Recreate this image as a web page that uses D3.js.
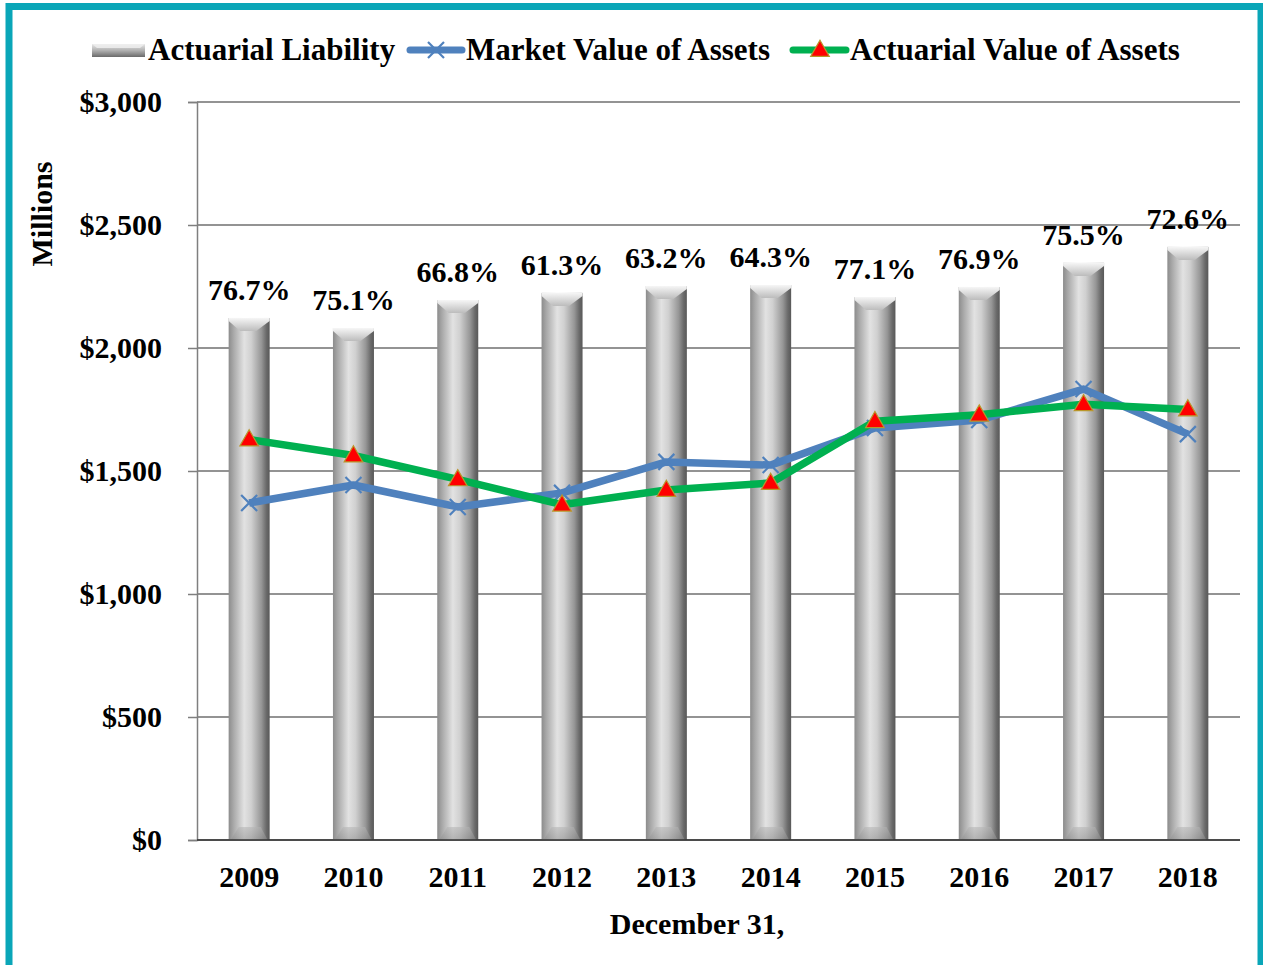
<!DOCTYPE html>
<html>
<head>
<meta charset="utf-8">
<script src="https://cdn.jsdelivr.net/npm/d3@7"></script>
<style>
html,body{margin:0;padding:0;background:#fff;}
svg{display:block;}
text{font-family:"Liberation Serif","Times New Roman",serif;font-weight:bold;fill:#000;}
</style>
</head>
<body>
<svg id="chart" width="1263" height="965"></svg>
<script>
const years = ["2009","2010","2011","2012","2013","2014","2015","2016","2017","2018"];
const actuarialLiability = [2122, 2081, 2195, 2224, 2252, 2256, 2207, 2248, 2346, 2411];
const marketValue = [1370, 1443, 1354, 1411, 1537, 1524, 1675, 1707, 1833, 1650];
const actuarialValue = [1628, 1563, 1466, 1363, 1423, 1451, 1702, 1729, 1771, 1750];
const fundedRatio = ["76.7%","75.1%","66.8%","61.3%","63.2%","64.3%","77.1%","76.9%","75.5%","72.6%"];
const yTicks = [0, 500, 1000, 1500, 2000, 2500, 3000];
const legendLabels = ["Actuarial Liability","Market Value of Assets","Actuarial Value of Assets"];

const svg = d3.select("#chart");
const plot = {left:197, right:1240, top:102, bottom:840};
const FS = 30;

// border
svg.append("rect").attr("x",9).attr("y",6.5).attr("width",1252).attr("height",962)
  .attr("fill","#fff").attr("stroke","#0aa6b8").attr("stroke-width",7);

const x = d3.scaleBand().domain(years).range([plot.left, plot.right]).padding(0);
const y = d3.scaleLinear().domain([0,3000]).range([plot.bottom, plot.top]);
const fmt = d => "$" + d3.format(",")(d);

const defs = svg.append("defs");
const g1 = defs.append("linearGradient").attr("id","barGrad").attr("x1","0").attr("x2","1").attr("y1","0").attr("y2","0");
[[0,"#8c8c8c"],[0.12,"#a9a9a9"],[0.38,"#e2e2e2"],[0.55,"#d0d0d0"],[0.8,"#969696"],[0.92,"#6a6a6a"],[1,"#585858"]]
  .forEach(([o,c])=>g1.append("stop").attr("offset",o).attr("stop-color",c));
const g2 = defs.append("linearGradient").attr("id","capGrad").attr("x1","0").attr("x2","0").attr("y1","0").attr("y2","1");
[[0,"#f6f6f6"],[1,"#bcbcbc"]].forEach(([o,c])=>g2.append("stop").attr("offset",o).attr("stop-color",c));
const g3 = defs.append("linearGradient").attr("id","botGrad").attr("x1","0").attr("x2","0").attr("y1","0").attr("y2","1");
[[0,"#b4b4b4"],[1,"#8e8e8e"]].forEach(([o,c])=>g3.append("stop").attr("offset",o).attr("stop-color",c));
const g4 = defs.append("linearGradient").attr("id","legGrad").attr("x1","0").attr("x2","0").attr("y1","0").attr("y2","1");
[[0,"#e8e8e8"],[0.5,"#b0b0b0"],[1,"#6a6a6a"]].forEach(([o,c])=>g4.append("stop").attr("offset",o).attr("stop-color",c));

// gridlines
svg.append("g").attr("class","grid").selectAll("line").data(yTicks).join("line")
  .attr("x1",plot.left).attr("x2",plot.right).attr("y1",d=>y(d)).attr("y2",d=>y(d))
  .attr("stroke","#6f6f6f").attr("stroke-width",1.5);

const yAxis = d3.axisLeft(y).tickValues(yTicks).tickSize(9).tickPadding(26).tickFormat(fmt);
const ya = svg.append("g").attr("transform",`translate(${plot.left},0)`).call(yAxis);
ya.select(".domain").attr("stroke","#7f7f7f").attr("stroke-width",1.5);
ya.selectAll(".tick line").attr("stroke","#7f7f7f").attr("stroke-width",1.5);
ya.selectAll(".tick text").style("font-size",FS+"px").style("font-family","Liberation Serif").style("font-weight","bold").attr("fill","#000");

// bars
const bw = 41;
const bars = svg.append("g");
years.forEach((yr,i)=>{
  const cx = x(yr) + x.bandwidth()/2;
  const x0 = cx - bw/2, x1 = cx + bw/2;
  const top = y(actuarialLiability[i]), bot = y(0);
  bars.append("rect").attr("x",x0).attr("y",top).attr("width",bw).attr("height",bot-top).attr("fill","url(#barGrad)");
  bars.append("polygon").attr("points",[[x0,top],[x1,top],[x1,top+3],[cx+7,top+13],[cx-9,top+13],[x0,top+3]].map(p=>p.join(",")).join(" "))
    .attr("fill","url(#capGrad)");
  bars.append("polygon").attr("points",[[x0+2,bot],[x1-2,bot],[x1-9,bot-13],[x0+10,bot-13]].map(p=>p.join(",")).join(" "))
    .attr("fill","url(#botGrad)").attr("opacity",0.55);
});

// x axis
svg.append("line").attr("x1",plot.left).attr("x2",plot.right).attr("y1",plot.bottom).attr("y2",plot.bottom)
  .attr("stroke","#333").attr("stroke-width",1.5);
svg.append("g").selectAll("text").data(years).join("text")
  .attr("x",d=>x(d)+x.bandwidth()/2).attr("y",887).attr("text-anchor","middle")
  .style("font-size",FS+"px").text(d=>d);

// funded ratio labels
svg.append("g").selectAll("text").data(fundedRatio).join("text")
  .attr("x",(d,i)=>x(years[i])+x.bandwidth()/2).attr("y",(d,i)=>y(actuarialLiability[i])-18)
  .attr("text-anchor","middle").style("font-size",FS+"px").text(d=>d);

// lines
const line = d3.line().x((d,i)=>x(years[i])+x.bandwidth()/2).y(d=>y(d));
svg.append("path").datum(marketValue).attr("d",line).attr("fill","none")
  .attr("stroke","#4f81bd").attr("stroke-width",7.5).attr("stroke-linejoin","round");
const xm = svg.append("g");
marketValue.forEach((v,i)=>{
  const cx = x(years[i])+x.bandwidth()/2, cy = y(v), s = 8;
  xm.append("path").attr("d",`M${cx-s},${cy-s}L${cx+s},${cy+s}M${cx-s},${cy+s}L${cx+s},${cy-s}`)
    .attr("stroke","#4f81bd").attr("stroke-width",2.2);
});
svg.append("path").datum(actuarialValue).attr("d",line).attr("fill","none")
  .attr("stroke","#00b050").attr("stroke-width",7.5).attr("stroke-linejoin","round");
const tri = d3.symbol().type(d3.symbolTriangle).size(150);
svg.append("g").selectAll("path").data(actuarialValue).join("path")
  .attr("d",tri).attr("transform",(d,i)=>`translate(${x(years[i])+x.bandwidth()/2},${y(d)+1})`)
  .attr("fill","#ff0000").attr("stroke","#b9962a").attr("stroke-width",1.2);

// axis titles
svg.append("text").attr("x",697).attr("y",934).attr("text-anchor","middle").style("font-size",FS+"px").text("December 31,");
svg.append("text").attr("transform","translate(52,214) rotate(-90)").attr("text-anchor","middle").style("font-size",FS+"px").text("Millions");

// legend
const LFS = 31;
const lg = svg.append("g");
lg.append("rect").attr("x",92).attr("y",44).attr("width",53).attr("height",13).attr("fill","url(#legGrad)");
lg.append("polygon").attr("points","92,44 145,44 140,48 97,48").attr("fill","#f0f0f0").attr("opacity",0.8);
lg.append("text").attr("x",148).attr("y",60).style("font-size",LFS+"px").text(legendLabels[0]);
lg.append("line").attr("x1",410).attr("x2",462).attr("y1",50).attr("y2",50).attr("stroke","#4f81bd").attr("stroke-width",7).attr("stroke-linecap","round");
lg.append("path").attr("d","M428,42L444,58M428,58L444,42").attr("stroke","#4f81bd").attr("stroke-width",2.2);
lg.append("text").attr("x",466).attr("y",60).style("font-size",LFS+"px").text(legendLabels[1]);
lg.append("line").attr("x1",793).attr("x2",846).attr("y1",50).attr("y2",50).attr("stroke","#00b050").attr("stroke-width",7).attr("stroke-linecap","round");
lg.append("path").attr("d",tri).attr("transform","translate(820,51)").attr("fill","#ff0000").attr("stroke","#b9962a").attr("stroke-width",1.2);
lg.append("text").attr("x",850).attr("y",60).style("font-size",LFS+"px").text(legendLabels[2]);
</script>
</body>
</html>
